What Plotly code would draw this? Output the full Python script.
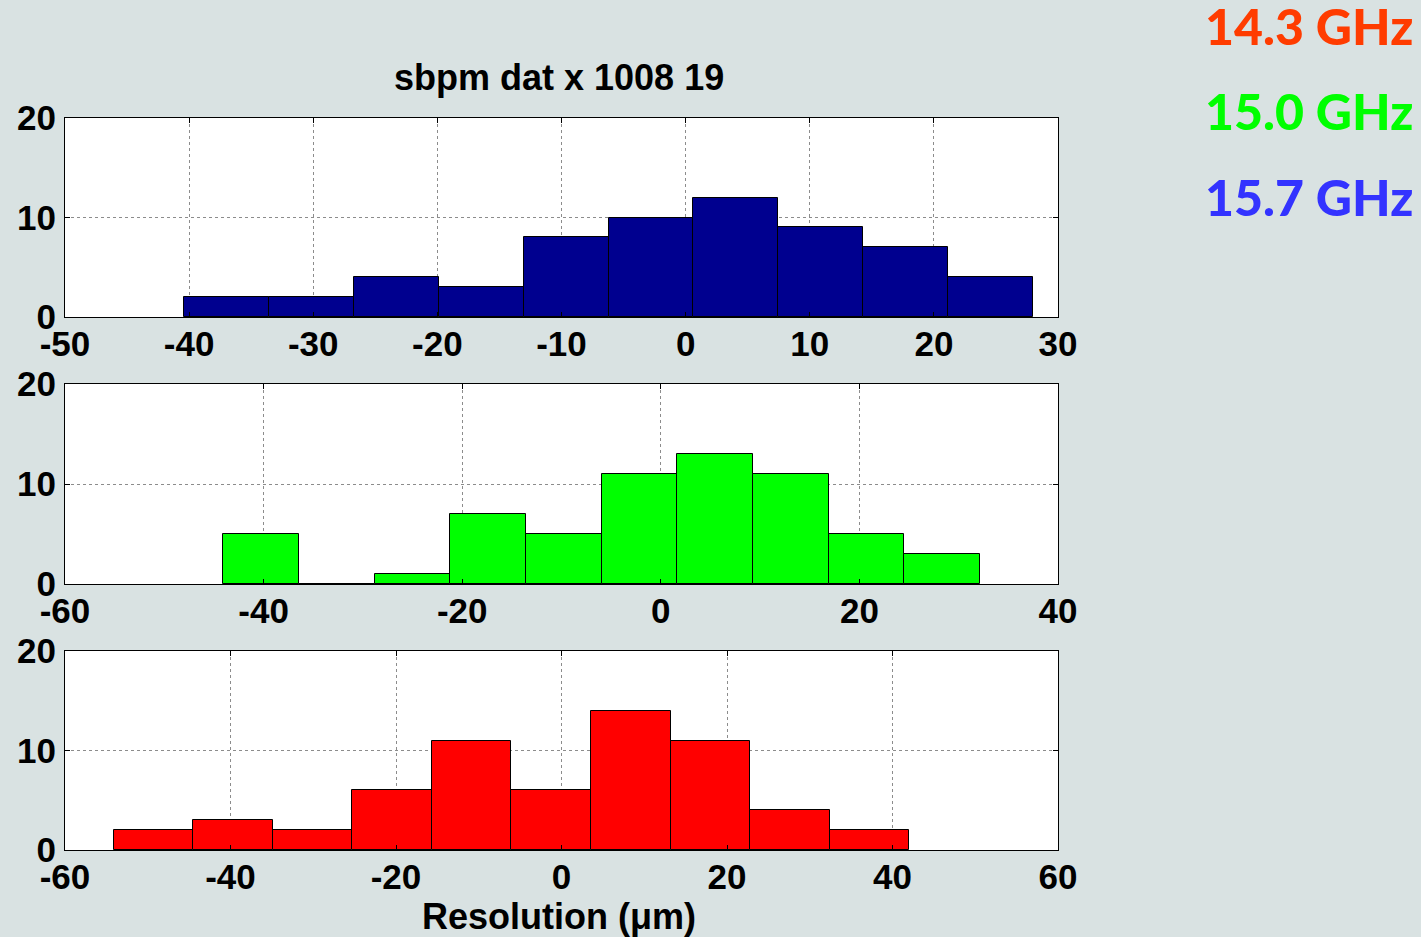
import plotly.graph_objects as go

# ---- data ----
title_text = "sbpm dat x 1008 19"
xlabel_text = "Resolution (μm)"

# 15.7 GHz (top panel)
counts_top = [2, 2, 4, 3, 8, 10, 12, 9, 7, 4]
range_top = [-40.4, 27.98]          # data min / max -> 10 equal bins
xticks_top = [-50, -40, -30, -20, -10, 0, 10, 20, 30]

# 15.0 GHz (middle panel)
counts_mid = [5, 0, 1, 7, 5, 11, 13, 11, 5, 3]
range_mid = [-44.04, 32.15]
xticks_mid = [-60, -40, -20, 0, 20, 40]

# 14.3 GHz (bottom panel)
counts_bot = [2, 3, 2, 6, 11, 6, 14, 11, 4, 2]
range_bot = [-54.13, 42.03]
xticks_bot = [-60, -40, -20, 0, 20, 40, 60]

yticks = [0, 10, 20]
legend_labels = ["14.3 GHz", "15.0 GHz", "15.7 GHz"]
legend_colors = ["#ff3c00", "#00ff00", "#3333ff"]
bar_colors = ["#00008f", "#00ff00", "#ff0000"]  # top, mid, bottom

# ---- figure ----
W, H = 1421, 937
ML, MR, MT, MB = 65, 363, 118, 87
plot_h = H - MT - MB


def dom(top_px, bot_px):
    return [(H - MB - bot_px) / plot_h, (H - MB - top_px) / plot_h]


fig = go.Figure()

panels = [
    (counts_top, range_top, xticks_top, bar_colors[0], "x", "y", dom(118, 317)),
    (counts_mid, range_mid, xticks_mid, bar_colors[1], "x2", "y2", dom(384, 584)),
    (counts_bot, range_bot, xticks_bot, bar_colors[2], "x3", "y3", dom(651, 850)),
]

font_axis = dict(family="Liberation Sans, Arial, sans-serif", size=35, color="black", weight="bold")
font_text = dict(family="Liberation Sans, Arial, sans-serif", size=36, color="black", weight="bold")

for i, (counts, rng, xt, col, xa, ya, d) in enumerate(panels):
    n = len(counts)
    w = (rng[1] - rng[0]) / n
    centers = [rng[0] + (k + 0.5) * w for k in range(n)]
    fig.add_trace(go.Bar(
        x=centers, y=counts, width=[w] * n,
        marker=dict(color=col, line=dict(color="black", width=1)),
        xaxis=xa, yaxis=ya, showlegend=False, hoverinfo="skip",
    ))
    sfx = "" if i == 0 else str(i + 1)
    axis_common = dict(
        showline=True, linecolor="black", linewidth=1.2, mirror="ticks",
        ticks="inside", ticklen=5, tickcolor="black", tickwidth=1,
        showgrid=True, gridcolor="#8c8c8c", griddash="dot", gridwidth=1,
        zeroline=False, tickfont=font_axis,
    )
    fig.update_layout(**{
        "xaxis" + sfx: dict(
            domain=[0, 1], anchor="y" + sfx, range=[xt[0], xt[-1]],
            tickmode="array", tickvals=xt, ticktext=[str(v) for v in xt],
            ticklabelstandoff=-4, **axis_common),
        "yaxis" + sfx: dict(
            domain=d, anchor="x" + sfx, range=[0, 20],
            tickmode="array", tickvals=yticks, ticktext=[str(v) for v in yticks],
            ticklabelstandoff=1, **axis_common),
    })

annotations = [
    dict(text=title_text, xref="paper", yref="paper", x=0.497, y=(H - MB - 78) / plot_h,
         xanchor="center", yanchor="middle", showarrow=False, font=font_text),
    dict(text=xlabel_text, xref="paper", yref="paper", x=0.497, y=(H - MB - 916) / plot_h,
         xanchor="center", yanchor="middle", showarrow=False, font=font_text),
]
legend_y_px = [26, 111, 197]
for lab, c, yp in zip(legend_labels, legend_colors, legend_y_px):
    annotations.append(dict(
        text=lab, xref="paper", yref="paper",
        x=(1415 - ML) / (W - ML - MR), y=(H - MB - yp) / plot_h,
        xanchor="right", yanchor="middle", showarrow=False,
        font=dict(family="Lato, sans-serif", size=50, color=c, weight=900)))

fig.update_layout(
    width=W, height=H,
    margin=dict(l=ML, r=MR, t=MT, b=MB, pad=0),
    paper_bgcolor="#d9e2e2", plot_bgcolor="white",
    bargap=0, showlegend=False,
    annotations=annotations,
)

fig.write_html("out.html", include_plotlyjs=True, full_html=True,
               config={"displayModeBar": False})
